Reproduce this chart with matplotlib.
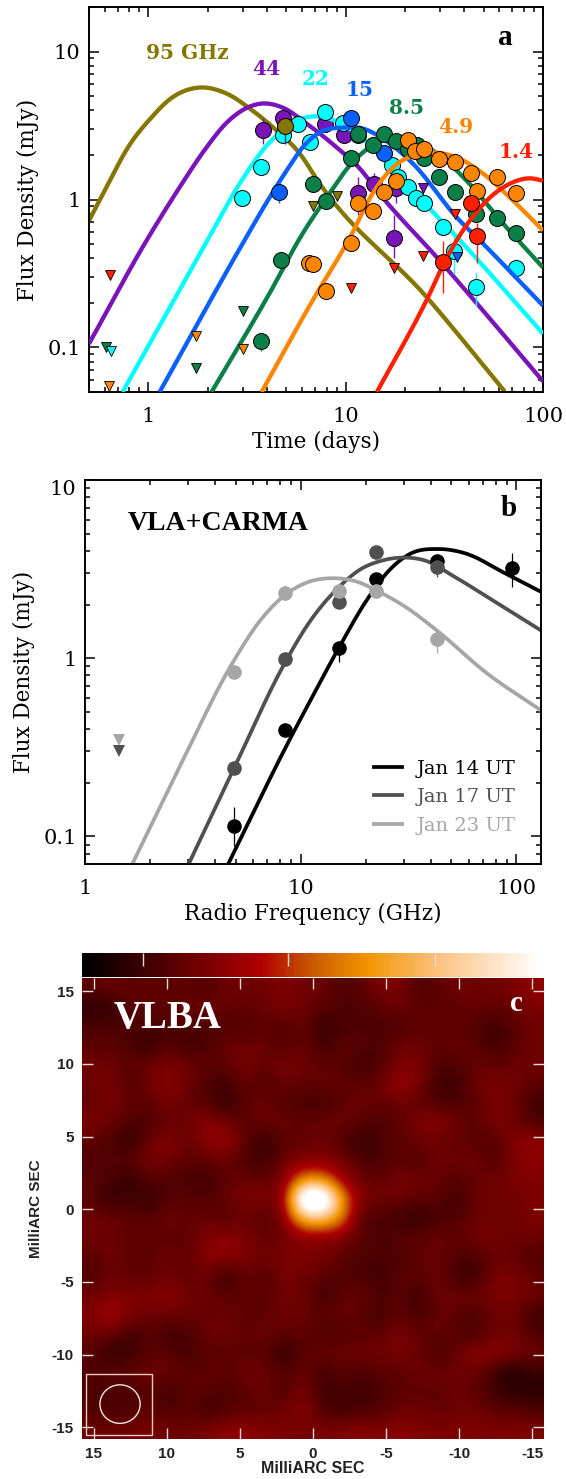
import numpy as np
import matplotlib
matplotlib.use('Agg')
from matplotlib import pyplot as plt
from matplotlib.colors import LinearSegmentedColormap
from matplotlib.patches import Rectangle, Ellipse
from matplotlib.ticker import NullFormatter

# panel a, model curves (days, mJy)
t95 = [0.5, 0.564, 0.83, 1.01, 1.32, 1.81, 2.49, 3.37, 4.46, 5.84, 7.38, 25.8, 64]
s95 = [0.72, 0.98, 2.5, 3.45, 4.89, 5.71, 5.2, 3.99, 2.93, 2.05, 1.28, 0.218, 0.0504]
t44 = [0.5, 0.98, 1.44, 1.97, 2.49, 3.14, 3.75, 4.79, 6.34, 9.0, 11.4, 15.4, 29, 44, 100]
s44 = [0.106, 0.53, 1.21, 2.25, 3.3, 4.15, 4.45, 4.18, 3.26, 2.25, 1.7, 1.03, 0.406, 0.214, 0.059]
t22 = [0.74, 1.99, 2.9, 4.11, 5.2, 6.05, 7.38, 9.0, 12.2, 19.5, 37.9, 100]
s22 = [0.05, 0.53, 1.28, 2.43, 3.16, 3.53, 3.64, 3.37, 2.58, 1.34, 0.53, 0.124]
t15 = [1.14, 3.07, 4.11, 5.02, 6.05, 7.38, 9.66, 12.2, 15.4, 21.9, 36.6, 49.6, 100]
s15 = [0.05, 0.53, 1.03, 1.57, 2.25, 2.84, 3.06, 3.02, 2.58, 1.75, 0.755, 0.504, 0.192]
t85 = [2.09, 4.11, 6.05, 8.0, 10.5, 13.2, 17.3, 21.9, 29, 41, 62.7, 100]
s85 = [0.05, 0.232, 0.589, 1.03, 1.7, 2.25, 2.62, 2.5, 2.05, 1.34, 0.689, 0.347]
t49 = [3.75, 6.8, 10.5, 13.7, 17.3, 21.9, 27.7, 36.6, 49.6, 68, 100]
s49 = [0.05, 0.208, 0.553, 1.1, 1.64, 1.98, 2.08, 1.92, 1.5, 1.03, 0.618]
t14 = [14.4, 25.8, 32.6, 42.6, 53.8, 68, 85.9, 100]
s14 = [0.05, 0.211, 0.406, 0.721, 1.03, 1.28, 1.39, 1.34]

# panel a, detections
pt44 = [3.79, 4.79, 7.82, 9.77, 13.9, 11.6, 17.9, 17.5]
ps44 = [2.97, 3.58, 3.26, 2.71, 1.28, 1.10, 1.19, 0.553]
pt22 = [2.97, 3.74, 4.79, 5.71, 7.82, 6.56, 9.66, 11.6, 17.1, 18.4, 20.6, 22.7, 24.9, 31, 35.3, 45.7, 72.9]
ps22 = [1.03, 1.67, 2.71, 3.26, 3.93, 2.43, 3.31, 2.71, 1.7, 1.41, 1.22, 1.03, 0.94, 0.647, 0.452, 0.258, 0.347]
pt15 = [4.57, 10.6, 15.6]
ps15 = [1.13, 3.58, 2.05]
pt85 = [3.74, 4.68, 6.8, 7.92, 10.7, 11.6, 13.7, 15.6, 17.9, 20.6, 22.9, 24.9, 29.6, 35.7, 45.7, 58.4, 72.9]
ps85 = [0.111, 0.393, 1.28, 0.98, 1.92, 2.75, 2.32, 2.75, 2.5, 2.21, 2.32, 1.92, 1.41, 1.13, 0.80, 0.755, 0.598]
pt49 = [20.6, 22.4, 24.9, 29.6, 35.7, 43.1, 58.4, 46.2, 72.9, 17.9, 15.6, 11.6, 13.7, 10.6, 6.49, 6.8, 7.92]
ps49 = [2.54, 2.14, 2.18, 1.89, 1.78, 1.5, 1.43, 1.15, 1.1, 1.34, 1.13, 0.94, 0.83, 0.512, 0.375, 0.364, 0.239]
pt14 = [43.1, 46.2, 31]
ps14 = [0.94, 0.571, 0.381]
pt95 = [4.9]
ps95 = [3.16]

# panel a, upper limits
lim_t14 = [0.64, 35.7, 24.6, 17.5, 10.6]
lim_s14 = [0.311, 0.80, 0.418, 0.347, 0.254]
lim_t85 = [0.612, 1.75, 3.0]
lim_s85 = [0.1, 0.073, 0.175]
lim_t95 = [6.8, 9.0]
lim_s95 = [0.91, 1.06]
lim_t22 = [0.65]
lim_s22 = [0.094]
lim_t49 = [0.634, 1.75, 3.03]
lim_s49 = [0.0545, 0.119, 0.097]
lim_t44 = [24.6]
lim_s44 = [1.19]
lim_t15 = [36.6]
lim_s15 = [0.406]

# panel a, error bars (time, low, high)
err44 = [[3.79, 17.5, 11.6, 17.9, 13.9], [2.39, 0.4, 0.78, 0.94, 1.15], [3.58, 0.78, 1.41, 1.19, 1.5]]
err22 = [[35.3, 45.7, 72.9], [0.316, 0.192, 0.297], [0.589, 0.321, 0.399]]
err15 = [[4.57], [0.94], [1.28]]
err85 = [[3.74], [0.095], [0.126]]
err14 = [[31, 46.2], [0.232, 0.375], [0.528, 0.689]]
err95 = [[4.9], [2.39], [3.58]]

# panel b
nu = [4.9, 8.5, 15, 22.4, 43, 95]
nu2 = nu[:5]
jan14 = [0.115, 0.393, 1.14, 2.77, 3.53, 3.22]
jan17 = [0.242, 0.987, 2.08, 3.96, 3.27]
jan23 = [0.842, 2.31, 2.39, 2.39, 1.28]
f14 = [4.62, 8.74, 11.4, 15, 20.4, 25.7, 32.4, 43.3, 57.8, 88.4, 129]
c14 = [0.0703, 0.336, 0.617, 1.14, 2.15, 3.11, 3.87, 4.1, 3.88, 3.0, 2.37]
f17 = [3.03, 4.9, 8.4, 11, 15, 18.9, 23.8, 30, 37.8, 51.5, 81.8, 129]
c17 = [0.0703, 0.24, 0.93, 1.6, 2.5, 3.15, 3.53, 3.67, 3.53, 2.87, 2.03, 1.44]
f23 = [1.66, 2.75, 4.9, 6.42, 8.41, 10.6, 13.9, 18.2, 22.9, 31.2, 42.5, 72.9, 129]
c23 = [0.0703, 0.247, 0.97, 1.6, 2.25, 2.65, 2.81, 2.69, 2.37, 1.91, 1.44, 0.824, 0.513]

# panel c, brightness, top row first
vlba = [
    [4, 5, 4, 4, 4, 4, 3, 5, 5, 5, 6, 5, 5, 3, 4, 6, 6, 3, 4, 5, 5, 5, 6, 7],
    [1, 1, 4, 4, 4, 5, 5, 5, 4, 5, 6, 5, 4, 3, 3, 4, 5, 4, 4, 4, 5, 4, 5, 6],
    [3, 3, 3, 3, 3, 3, 3, 3, 3, 4, 3, 5, 1, 3, 3, 3, 3, 4, 4, 4, 3, 2, 4, 5],
    [4, 4, 3, 1, 4, 2, 3, 5, 5, 5, 3, 5, 2, 4, 4, 3, 5, 5, 4, 5, 4, 2, 4, 5],
    [5, 5, 4, 5, 6, 5, 4, 4, 6, 4, 6, 5, 4, 4, 2, 3, 6, 6, 3, 3, 5, 4, 5, 5],
    [5, 6, 3, 5, 7, 5, 3, 2, 5, 3, 5, 4, 5, 4, 4, 5, 8, 6, 2, 2, 5, 6, 5, 4],
    [4, 6, 4, 4, 6, 4, 4, 1, 4, 5, 3, 3, 2, 4, 5, 4, 5, 4, 3, 3, 4, 6, 5, 2],
    [6, 5, 3, 3, 4, 5, 7, 5, 4, 5, 5, 4, 5, 5, 4, 3, 4, 6, 7, 5, 4, 6, 5, 3],
    [4, 3, 1, 5, 7, 4, 7, 8, 4, 1, 4, 4, 5, 3, 1, 3, 4, 5, 5, 4, 4, 3, 7, 7],
    [3, 4, 4, 6, 5, 4, 4, 5, 3, 2, 5, 6, 6, 6, 3, 3, 4, 3, 5, 5, 5, 3, 6, 7],
    [4, 3, 1, 4, 3, 3, 2, 4, 5, 4, 6, 14, 14, 7, 5, 4, 6, 5, 5, 3, 5, 5, 6, 6],
    [4, 1, 3, 1, 4, 4, 3, 5, 6, 6, 6, 34, 35, 15, 6, 5, 5, 4, 4, 2, 5, 5, 5, 6],
    [5, 5, 4, 4, 5, 4, 5, 3, 5, 3, 6, 18, 19, 14, 3, 3, 2, 1, 3, 3, 5, 5, 5, 6],
    [5, 5, 4, 4, 4, 4, 6, 7, 6, 4, 5, 6, 6, 6, 4, 3, 4, 4, 5, 4, 6, 5, 5, 5],
    [4, 5, 4, 4, 5, 4, 7, 7, 6, 5, 6, 6, 6, 4, 3, 3, 3, 4, 5, 3, 3, 5, 4, 3],
    [3, 5, 4, 4, 5, 4, 5, 1, 5, 3, 6, 5, 4, 3, 3, 2, 4, 4, 5, 2, 2, 6, 6, 4],
    [5, 6, 6, 6, 7, 5, 5, 4, 4, 4, 5, 5, 2, 4, 5, 3, 4, 2, 5, 5, 5, 6, 6, 5],
    [6, 9, 6, 5, 5, 5, 4, 5, 4, 4, 5, 5, 4, 5, 4, 2, 5, 2, 5, 4, 3, 5, 5, 2],
    [5, 5, 2, 4, 2, 3, 5, 5, 4, 5, 4, 4, 3, 3, 4, 4, 6, 4, 5, 3, 3, 5, 5, 3],
    [4, 1, 2, 4, 4, 2, 4, 4, 4, 4, 1, 4, 5, 5, 5, 5, 6, 5, 2, 5, 7, 7, 6, 5],
    [3, 4, 4, 5, 5, 4, 4, 4, 5, 5, 3, 5, 2, 4, 3, 4, 4, 5, 5, 5, 5, 2, 0, 2],
    [3, 3, 3, 4, 2, 4, 4, 3, 4, 5, 3, 6, 2, 3, 2, 3, 4, 4, 4, 5, 4, 2, 1, 1],
    [3, 3, 3, 4, 3, 4, 2, 3, 4, 4, 5, 7, 3, 2, 3, 3, 5, 5, 4, 5, 5, 4, 4, 3],
    [5, 5, 5, 6, 5, 5, 6, 7, 7, 6, 6, 5, 6, 6, 7, 6, 7, 6, 6, 6, 6, 6, 6, 6],
]
map_ticks = [15, 10, 5, 0, -5, -10, -15]

W, H = 566.0, 1479.0


def place(left, top, right, bottom):
    return [left / W, 1 - bottom / H, (right - left) / W, (bottom - top) / H]


def smooth(x, y):
    # draw the read points as a smooth line, in log space
    lx = np.log10(x)
    ly = np.log10(y)
    m = np.gradient(ly, lx)
    xs, ys = [], []
    for i in range(len(lx) - 1):
        h = lx[i + 1] - lx[i]
        u = np.linspace(0, 1, 16)
        ys.append((2*u**3 - 3*u**2 + 1) * ly[i] + (u**3 - 2*u**2 + u) * h * m[i]
                  + (-2*u**3 + 3*u**2) * ly[i + 1] + (u**3 - u**2) * h * m[i + 1])
        xs.append(lx[i] + u * h)
    return 10 ** np.concatenate(xs), 10 ** np.concatenate(ys)


def style_log(ax):
    ax.set_xscale('log')
    ax.set_yscale('log')
    ax.tick_params(which='major', direction='in', top=True, right=True, length=7.5, width=1.1)
    ax.tick_params(which='minor', direction='in', top=True, right=True, length=3.8, width=1.1)
    ax.tick_params(axis='x', which='major', pad=11)
    ax.tick_params(axis='y', which='major', pad=6)
    ax.xaxis.set_minor_formatter(NullFormatter())
    ax.yaxis.set_minor_formatter(NullFormatter())
    for s in ax.spines.values():
        s.set_linewidth(1.4)


SERIF = 'DejaVu Serif'
olive = '#857600'
purple = '#7a14b8'
cyan = '#00ffff'
blue = '#0a60ff'
green = '#0a8048'
orange = '#ff8500'
red = '#ff2000'

fig = plt.figure(figsize=(W / 100, H / 100), dpi=100)

# ---- panel a
ax = fig.add_axes(place(89, 7, 543, 392))
style_log(ax)
groups = [
    (t95, s95, None, None, None, olive),
    (t44, s44, pt44, ps44, err44, purple),
    (t22, s22, pt22, ps22, err22, cyan),
    (t15, s15, pt15, ps15, err15, blue),
    (t85, s85, pt85, ps85, err85, green),
    (t49, s49, pt49, ps49, None, orange),
    (t14, s14, pt14, ps14, err14, red),
]
z = 2
for tc, sc, tp, sp, er, col in groups:
    sx, sy = smooth(tc, sc)
    ax.plot(sx, sy, color=col, lw=3.1, zorder=z, solid_capstyle='butt')
    if er is not None:
        ax.vlines(er[0], er[1], er[2], color=col, lw=1, zorder=z)
    if tp is not None:
        ax.plot(tp, sp, 'o', color=col, mec='k', mew=0.7, ms=11.5, zorder=z + 0.5, ls='none')
    z += 1

ax.vlines(err95[0], err95[1], err95[2], color='#20308a', lw=1, zorder=z)
ax.plot(pt95, ps95, 'o', color=olive, mec='k', mew=0.7, ms=11.5, zorder=z, ls='none')

limits = [(lim_t14, lim_s14, red), (lim_t85, lim_s85, green), (lim_t95, lim_s95, olive),
          (lim_t22, lim_s22, cyan), (lim_t49, lim_s49, orange), (lim_t44, lim_s44, purple),
          (lim_t15, lim_s15, blue)]
for tl, sl, col in limits:
    ax.plot(tl, sl, 'v', color=col, mec='k', mew=0.6, ms=7.5, zorder=z + 1, ls='none')

ax.set_xlim(0.5, 100)
ax.set_ylim(0.05, 20)
ax.set_xticks([1, 10, 100], ['1', '10', '100'])
ax.set_yticks([0.1, 1, 10], ['0.1', '1', '10'])
ax.tick_params(labelsize=15)
for lab in ax.get_xticklabels() + ax.get_yticklabels():
    lab.set_family(SERIF)
ax.set_xlabel('Time (days)', family=SERIF, size=15.5, labelpad=3)
ax.set_ylabel('Flux Density (mJy)', family=SERIF, size=15.5, labelpad=6)

lab_kw = dict(family=SERIF, weight='bold', size=14.5, ha='center', va='center', zorder=20)
ax.text(1.58, 9.85, '95 GHz', color=olive, **lab_kw)
ax.text(3.97, 7.67, '44', color=purple, **lab_kw)
ax.text(7.04, 6.57, '22', color=cyan, **lab_kw)
ax.text(11.8, 5.53, '15', color=blue, **lab_kw)
ax.text(20.4, 4.18, '8.5', color=green, **lab_kw)
ax.text(36.2, 3.07, '4.9', color=orange, **lab_kw)
ax.text(72.9, 2.11, '1.4', color=red, **lab_kw)
ax.text(0.918, 0.92, 'a', transform=ax.transAxes, family='Liberation Serif', weight='bold',
        size=21, ha='center', va='center')

# ---- panel b
bx = fig.add_axes(place(85, 480, 541, 864))
style_log(bx)
for fx, cy, col, name in [(f14, c14, 'k', 'Jan 14 UT'), (f17, c17, '#505050', 'Jan 17 UT'),
                          (f23, c23, '#a6a6a6', 'Jan 23 UT')]:
    sx, sy = smooth(fx, cy)
    bx.plot(sx, sy, color=col, lw=2.7, label=name)
bx.vlines([4.9, 95, 15], [0.088, 2.52, 0.957], [0.147, 3.88, 1.16], color='k', lw=0.9)
bx.vlines([43], [1.07], [1.28], color='#a6a6a6', lw=0.9)
bx.vlines([43], [2.87], [3.27], color='#505050', lw=0.9)
bx.plot(nu, jan14, 'o', color='k', ms=10.5, mew=0)
bx.plot(nu2, jan17, 'o', color='#505050', ms=10.5, mew=0)
bx.plot(nu2, jan23, 'o', color='#a6a6a6', ms=10.5, mew=0)
bx.plot([1.43], [0.348], 'v', color='#a6a6a6', ms=9, mew=0)
bx.plot([1.43], [0.302], 'v', color='#505050', ms=9, mew=0)
bx.set_xlim(1, 130)
bx.set_ylim(0.07, 10)
bx.set_xticks([1, 10, 100], ['1', '10', '100'])
bx.set_yticks([0.1, 1, 10], ['0.1', '1', '10'])
bx.tick_params(labelsize=15)
for lab in bx.get_xticklabels() + bx.get_yticklabels():
    lab.set_family(SERIF)
bx.get_yticklabels()[2].set_verticalalignment('top')
bx.set_xlabel('Radio Frequency (GHz)', family=SERIF, size=15.5, labelpad=3)
bx.set_ylabel('Flux Density (mJy)', family=SERIF, size=15.5, labelpad=6)
leg = bx.legend(loc='lower right', frameon=False, handlelength=1.45, handletextpad=0.72,
                labelspacing=0.55, labelcolor='linecolor',
                prop={'family': SERIF, 'size': 14}, bbox_to_anchor=(0.982, 0.03))
bx.text(0.292, 0.887, 'VLA+CARMA', transform=bx.transAxes, family='Liberation Serif',
        weight='bold', size=20, ha='center', va='center')
bx.text(0.93, 0.925, 'b', transform=bx.transAxes, family='Liberation Serif', weight='bold',
        size=21, ha='center', va='center')

# ---- panel c
hot = LinearSegmentedColormap.from_list('vlba', [
    (0.0, '#000000'), (0.39, '#b00000'), (0.5, '#c85a00'), (0.62, '#f29400'),
    (0.8, '#fdc890'), (1.0, '#ffffff')])
cx = fig.add_axes(place(82, 978, 544, 1439))
im = cx.imshow(np.array(vlba, dtype=float), cmap=hot, vmin=-1.5, vmax=25, aspect='auto',
               interpolation='bicubic', extent=[15.8, -15.8, -15.8, 15.9])
cx.set_xticks(map_ticks, [str(v) for v in map_ticks])
cx.set_yticks(map_ticks, [str(v) for v in map_ticks])
cx.tick_params(direction='in', top=True, right=True, length=8, width=1, color='#e8dcd8', pad=6,
               labelsize=11, labelcolor='#222222')
for lab in cx.get_xticklabels() + cx.get_yticklabels():
    lab.set_family('Liberation Sans')
    lab.set_weight('bold')
for s in cx.spines.values():
    s.set_visible(False)
cx.set_xlabel('MilliARC SEC', family='Liberation Sans', weight='bold', size=11.5, color='#222222', labelpad=0)
cx.set_ylabel('MilliARC SEC', family='Liberation Sans', weight='bold', size=11, color='#222222', labelpad=6)
cx.add_patch(Rectangle((11.0, -15.5), 4.5, 4.2, fill=False, ec='#f0c8c0', lw=1))
cx.add_patch(Ellipse((13.2, -13.4), 2.75, 2.65, fill=False, ec='#f5e6e0', lw=1))
cx.text(0.185, 0.913, 'VLBA', transform=cx.transAxes, color='white', family='Liberation Serif',
        weight='bold', size=28, ha='center', va='center')
cx.text(0.94, 0.945, 'c', transform=cx.transAxes, color='white', family='Liberation Serif',
        weight='bold', size=21, ha='center', va='center')

cb_ax = fig.add_axes(place(82, 953, 541, 977))
cb = fig.colorbar(im, cax=cb_ax, orientation='horizontal')
cb.set_ticks([2.05, 10.4, 18.9])
cb.ax.tick_params(direction='in', top=True, bottom=False, labeltop=False, labelbottom=False,
                  length=9, width=1, color='#e8dcd8')
cb.outline.set_visible(False)

fig.savefig('out.png', dpi=100)
